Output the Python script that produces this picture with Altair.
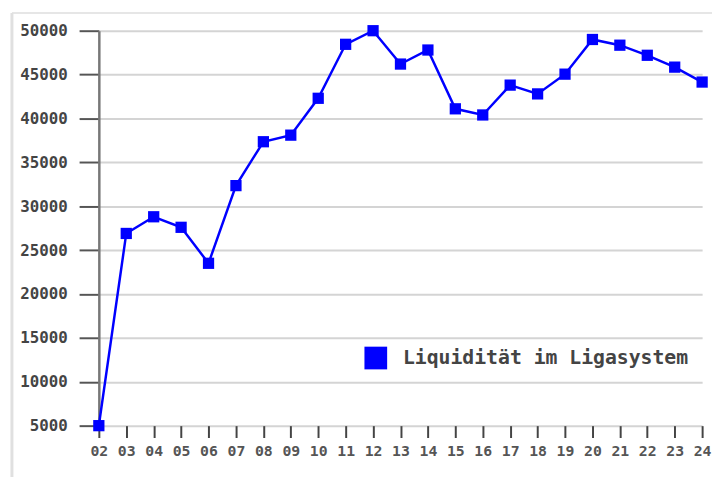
import altair as alt
import pandas as pd

seasons = ["02", "03", "04", "05", "06", "07", "08", "09", "10", "11", "12", "13",
           "14", "15", "16", "17", "18", "19", "20", "21", "22", "23", "24"]
liquidity = [5000, 26900, 28800, 27600, 23500, 32350, 37350, 38100, 42300, 48450, 50000, 46200,
             47800, 41100, 40400, 43800, 42800, 45050, 49000, 48350, 47200, 45850, 44150]
series_name = "Liquidität im Ligasystem"
y_ticks = [5000, 10000, 15000, 20000, 25000, 30000, 35000, 40000, 45000, 50000]

df = pd.DataFrame({"season": seasons, "value": liquidity, "series": [series_name] * len(seasons)})

FONT = "DejaVu Sans Mono"

x_enc = alt.X(
    "season:O", sort=None,
    scale=alt.Scale(type="point", padding=0),
    axis=alt.Axis(title=None, labelAngle=0, domain=False, grid=False,
                  tickSize=12, tickWidth=2, tickColor="#444",
                  labelFont=FONT, labelFontSize=15, labelColor="#555",
                  labelFontWeight="bold", labelPadding=6),
)
y_enc = alt.Y(
    "value:Q",
    scale=alt.Scale(domain=[5000, 50000], nice=False, zero=False),
    axis=alt.Axis(title=None, values=y_ticks, format="d",
                  tickSize=20, tickWidth=2, tickColor="#555",
                  domainColor="#777", domainWidth=2.5,
                  grid=True, gridColor="#d4d4d4", gridWidth=2,
                  labelFont=FONT, labelFontSize=16, labelColor="#444",
                  labelFontWeight="bold", labelPadding=12),
)

base = alt.Chart(df)
line = base.mark_line(color="#0000ff", strokeWidth=2.5).encode(x=x_enc, y=y_enc)
points = base.mark_square(size=130, opacity=1, filled=True).encode(
    x=x_enc, y=y_enc,
    color=alt.Color("series:N", scale=alt.Scale(range=["#0000ff"]),
                    legend=alt.Legend(title=None, orient="none", legendX=269, legendY=320,
                                      symbolType="square", symbolSize=529,
                                      symbolStrokeWidth=0, symbolOpacity=1,
                                      labelFont=FONT, labelFontSize=20, labelColor="#444",
                                      labelFontWeight="bold", labelOffset=16, padding=0,
                                      labelLimit=600)),
)

frame_df = pd.DataFrame({"a": [0]})
top_frame = alt.Chart(frame_df).mark_rule(color="#e6e6e6", strokeWidth=2).encode(
    x=alt.value(-88), x2=alt.value(630), y=alt.value(-18))
left_frame = alt.Chart(frame_df).mark_rule(color="#e0e0e0", strokeWidth=3).encode(
    x=alt.value(-88), y=alt.value(-18), y2=alt.value(460))

chart = alt.layer(top_frame, left_frame, line, points).properties(
    width=611, height=400,
    autosize=alt.AutoSizeParams(type="none"),
    padding={"left": 92, "top": 20, "right": 10, "bottom": 49},
    background="white",
).configure_view(stroke=None)

chart.save("out.html", embed_options={"renderer": "svg", "actions": False})
